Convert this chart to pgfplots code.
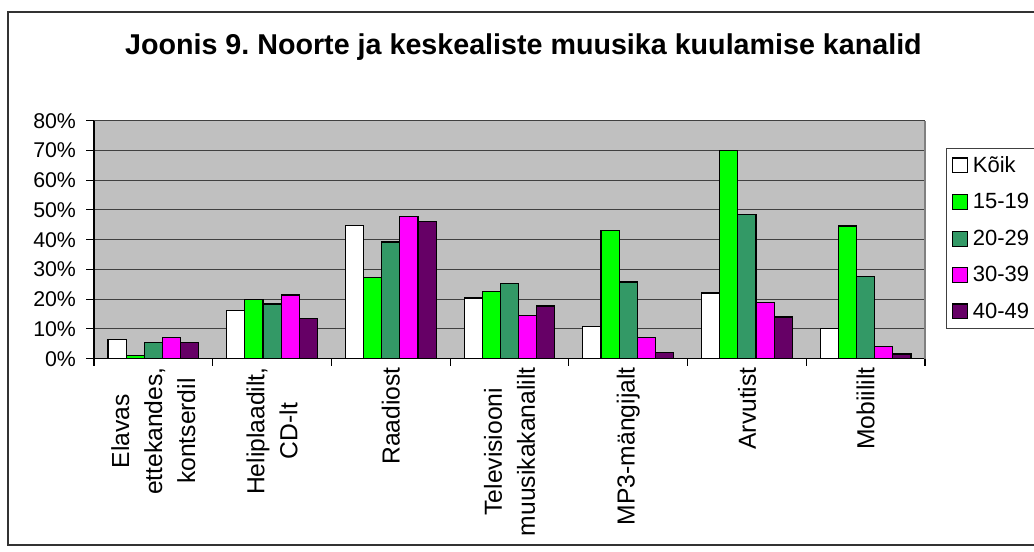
\documentclass[border=0pt]{standalone}
\usepackage{fontspec}
\setmainfont{Liberation Sans}
\usepackage{pgfplots}
\pgfplotsset{compat=1.18}

\definecolor{plotbg}{RGB}{192,192,192}
\definecolor{cgreen}{RGB}{0,255,0}
\definecolor{cteal}{RGB}{51,153,102}
\definecolor{cmag}{RGB}{255,0,255}
\definecolor{cpurp}{RGB}{102,0,102}

\begin{document}
\frenchspacing
\begin{tikzpicture}
\useasboundingbox (0,0) rectangle (775.5pt,414pt);
\draw[black!80, line width=1pt] (6pt,5.25pt) rectangle (790pt,405pt);
\node[font=\bfseries\fontsize{21.5}{25}\selectfont, anchor=base]
  at (392.6pt,372.75pt) {Joonis 9. Noorte ja keskealiste muusika kuulamise kanalid};
\begin{axis}[
  at={(70.5pt,145pt)}, anchor=south west,
  scale only axis, width=623.25pt, height=178.5pt,
  ybar=0pt, bar width=13.6pt,
  xmin=-0.5, xmax=6.5, ymin=0, ymax=80,
  axis lines=left, axis line style={-, black, line width=0.8pt},
  axis background/.style={fill=plotbg},
  xtick={0,...,6},
  xticklabels={{Elavas\\ettekandes,\\kontserdil},{Heliplaadilt,\\CD-lt},Raadiost,
    {Televisiooni\\muusikakanalilt},MP3-mängijalt,Arvutist,Mobiililt},
  major x tick style={draw=none},
  extra x ticks={-0.5,0.5,...,6.5}, extra x tick labels={},
  extra x tick style={grid=none, tick align=outside, major tick length=5.5pt,
    major x tick style={draw=black, line width=0.8pt}},
  xticklabel style={rotate=90, anchor=east, align=center,
    font=\fontsize{18.5}{24.75}\selectfont},
  xticklabel shift=-3pt,
  ytick={0,10,...,80},
  yticklabel={\pgfmathprintnumber{\tick}\%},
  /pgf/number format/assume math mode=true,
  yticklabel style={font=\fontsize{16}{18}\selectfont},
  yticklabel shift=4pt,
  tick align=outside, major tick length=6pt,
  y tick style={black, line width=0.8pt},
  ymajorgrids, grid style={black!75, line width=0.8pt},
  after end axis/.code={\draw[black!50, line width=0.8pt] (rel axis cs:1,0) -- (rel axis cs:1,1);},
  every axis plot post/.append style={draw=black, line width=0.9pt,
    legend image code/.code={\draw[##1, line width=0.8pt] (2.5pt,-5.6pt) rectangle (13.75pt,5.6pt);}},
  legend style={at={(1.0249,0.885)}, anchor=north west, draw=black!75, fill=white,
    line width=0.7pt, font=\fontsize{16.5}{19}\selectfont, row sep=10.3pt,
    column sep=2pt, inner sep=4pt, nodes={inner sep=2pt}},
  legend cell align=left,
]
\addplot[fill=white] coordinates {(0,6.4) (1,16.1) (2,44.7) (3,20.4) (4,10.8) (5,22.1) (6,10.2)};
\addlegendentry{Kõik}
\addplot[fill=cgreen] coordinates {(0,1.0) (1,19.8) (2,27.3) (3,22.5) (4,43.0) (5,70.0) (6,44.6)};
\addlegendentry{15-19}
\addplot[fill=cteal] coordinates {(0,5.3) (1,18.4) (2,39.2) (3,25.3) (4,25.8) (5,48.4) (6,27.5)};
\addlegendentry{20-29}
\addplot[fill=cmag] coordinates {(0,7.0) (1,21.4) (2,47.8) (3,14.4) (4,7.0) (5,18.8) (6,4.0)};
\addlegendentry{30-39}
\addplot[fill=cpurp] coordinates {(0,5.3) (1,13.4) (2,46.2) (3,17.7) (4,2.0) (5,14.0) (6,1.6)};
\addlegendentry{40-49}
\end{axis}
\end{tikzpicture}
\end{document}
